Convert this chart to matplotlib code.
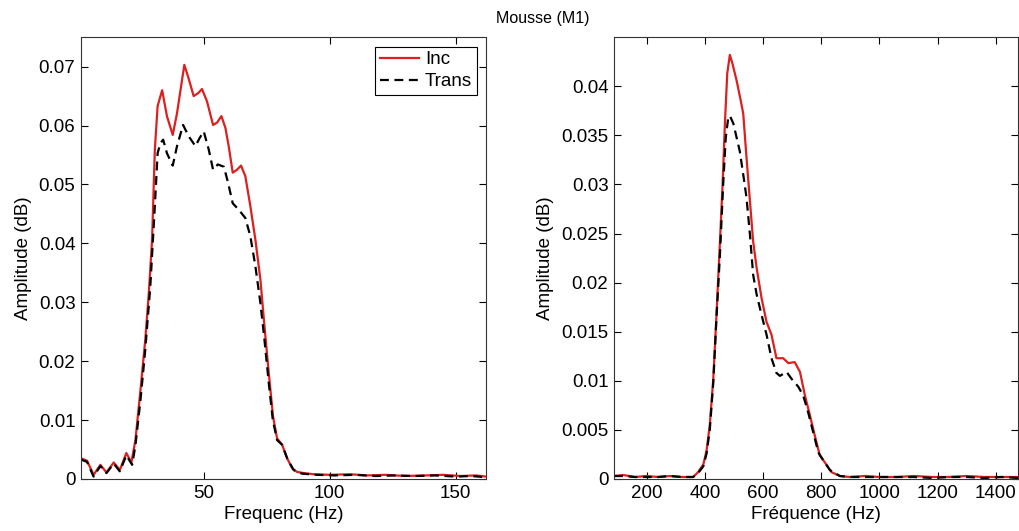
import numpy as np
import matplotlib
matplotlib.use("Agg")
import matplotlib.pyplot as plt

plt.rcParams["font.family"] = ["Liberation Sans", "DejaVu Sans"]

# left panel (Hz)
f1_inc = [1.3, 3.7, 6.3, 9.0, 11.4, 14.3, 16.7, 19.3, 21.3, 22.9, 24.9, 26.8, 28.2, 29.5,
          30.6, 31.7, 33.5, 35.4, 37.7, 39.4, 42.3, 44.0, 46.0, 47.8, 49.3, 51.3, 53.7,
          55.3, 57.0, 58.6, 59.9, 61.5, 63.2, 64.8, 66.5, 68.5, 70.5, 72.5, 74.1, 75.8,
          77.5, 79.1, 81.1, 83.1, 85.1, 87.0, 89.7, 93.7, 100, 108, 115, 122, 130, 138,
          145, 152, 158, 162]
a1_inc = [0.0035, 0.0031, 0.0007, 0.0024, 0.0011, 0.0028, 0.0015, 0.0044, 0.0028, 0.0066,
          0.0151, 0.0236, 0.0315, 0.0406, 0.0559, 0.0633, 0.0660, 0.0616, 0.0584, 0.0621,
          0.0703, 0.0680, 0.0650, 0.0655, 0.0662, 0.0641, 0.0601, 0.0605, 0.0616, 0.0596,
          0.0565, 0.0520, 0.0525, 0.0532, 0.0514, 0.0463, 0.0406, 0.0338, 0.0259, 0.0180,
          0.0106, 0.0069, 0.0058, 0.0035, 0.0018, 0.0012, 0.0010, 0.0008, 0.0007, 0.0008,
          0.0006, 0.0007, 0.0005, 0.0006, 0.0007, 0.0005, 0.0006, 0.0004]

f1_tr = [1.3, 3.7, 6.3, 9.0, 11.4, 14.3, 16.7, 19.3, 21.6, 22.9, 24.9, 26.8, 28.8, 30.6,
         31.7, 32.8, 33.9, 35.4, 37.7, 39.4, 41.8, 44.0, 46.7, 48.4, 50.0, 52.0, 53.7,
         55.6, 58.0, 59.7, 61.5, 63.9, 66.5, 68.5, 70.5, 72.5, 74.1, 75.8, 77.4, 79.1,
         81.1, 83.1, 85.7, 89.0, 95, 102, 110, 118, 126, 134, 142, 150, 156, 162]
a1_tr = [0.0033, 0.0029, 0.0004, 0.0022, 0.0010, 0.0026, 0.0013, 0.0040, 0.0024, 0.0057,
         0.0134, 0.0219, 0.0327, 0.0463, 0.0553, 0.0570, 0.0576, 0.0553, 0.0532, 0.0565,
         0.0601, 0.0582, 0.0565, 0.0579, 0.0590, 0.0559, 0.0525, 0.0534, 0.0530, 0.0502,
         0.0468, 0.0457, 0.0443, 0.0412, 0.0361, 0.0298, 0.0236, 0.0163, 0.0100, 0.0066,
         0.0058, 0.0035, 0.0015, 0.0009, 0.0007, 0.0006, 0.0007, 0.0005, 0.0006, 0.0005,
         0.0006, 0.0004, 0.0005, 0.0003]

# right panel (Hz)
f2_inc = [88, 120, 160, 200, 240, 280, 320, 360, 377, 395, 406, 417, 429, 440, 452, 461,
          469, 477, 486, 495, 509, 523, 532, 543, 555, 566, 578, 595, 612, 629, 646, 669,
          687, 709, 727, 744, 761, 778, 795, 812, 835, 864, 898, 950, 1000, 1060, 1120,
          1180, 1240, 1300, 1360, 1420, 1476]
a2_inc = [0.0003, 0.0004, 0.0002, 0.0003, 0.0002, 0.0003, 0.0002, 0.0002, 0.0007, 0.0015,
          0.0029, 0.0055, 0.0102, 0.0167, 0.0242, 0.0300, 0.0362, 0.0413, 0.0432, 0.0423,
          0.0406, 0.0386, 0.0372, 0.0328, 0.0283, 0.0242, 0.0215, 0.0184, 0.0160, 0.0147,
          0.0123, 0.0123, 0.0118, 0.0119, 0.0109, 0.0085, 0.0065, 0.0044, 0.0024, 0.0017,
          0.0007, 0.0003, 0.0002, 0.0003, 0.0002, 0.0002, 0.0003, 0.0002, 0.0002, 0.0003,
          0.0002, 0.0002, 0.0002]

f2_tr = [88, 120, 160, 200, 240, 280, 320, 360, 377, 395, 406, 417, 429, 440, 452, 463,
         472, 480, 486, 498, 509, 520, 532, 543, 555, 566, 578, 595, 612, 629, 646, 658,
         681, 698, 721, 738, 755, 772, 790, 807, 830, 864, 898, 950, 1000, 1060, 1120,
         1180, 1240, 1300, 1360, 1420, 1476]
a2_tr = [0.0003, 0.0003, 0.0002, 0.0002, 0.0002, 0.0003, 0.0002, 0.0002, 0.0006, 0.0013,
         0.0026, 0.0050, 0.0098, 0.0164, 0.0229, 0.0300, 0.0348, 0.0367, 0.0370, 0.0362,
         0.0348, 0.0334, 0.0310, 0.0287, 0.0249, 0.0208, 0.0188, 0.0167, 0.0147, 0.0123,
         0.0108, 0.0105, 0.0109, 0.0102, 0.0094, 0.0085, 0.0068, 0.0048, 0.0027, 0.0019,
         0.0009, 0.0003, 0.0002, 0.0002, 0.0002, 0.0002, 0.0002, 0.0001, 0.0002, 0.0002,
         0.0001, 0.0002, 0.0001]

yticks1 = [0, 0.01, 0.02, 0.03, 0.04, 0.05, 0.06, 0.07]
ylabels1 = ["0", "0.01", "0.02", "0.03", "0.04", "0.05", "0.06", "0.07"]
xticks1 = [50, 100, 150]
yticks2 = [0, 0.005, 0.01, 0.015, 0.02, 0.025, 0.03, 0.035, 0.04]
ylabels2 = ["0", "0.005", "0.01", "0.015", "0.02", "0.025", "0.03", "0.035", "0.04"]
xticks2 = [200, 400, 600, 800, 1000, 1200, 1400]

RED = "#dd1f1f"
FS = 13.5

fig = plt.figure(figsize=(10.2, 5.31), dpi=100)
ax1 = fig.add_axes([0.0794, 0.098, 0.3971, 0.832])
ax2 = fig.add_axes([0.602, 0.098, 0.396, 0.832])

ax1.plot(f1_inc, a1_inc, color=RED, lw=1.6, label="Inc")
ax1.plot(f1_tr, a1_tr, color="black", lw=1.6, ls=(0, (4, 2.5)), label="Trans")
ax1.set_xlim(1.3, 162)
ax1.set_ylim(0, 0.075)
ax1.set_xticks(xticks1)
ax1.set_yticks(yticks1)
ax1.set_yticklabels(ylabels1)
ax1.set_xlabel("Frequenc (Hz)", fontsize=FS, labelpad=3)
ax1.set_ylabel("Amplitude (dB)", fontsize=FS, labelpad=5)
leg = ax1.legend(loc="upper right", fontsize=FS, fancybox=False, framealpha=1,
                 edgecolor="black", borderaxespad=0.5, handlelength=2.1,
                 handletextpad=0.3, labelspacing=0.25, borderpad=0.25)
leg.get_frame().set_linewidth(0.8)

ax2.plot(f2_inc, a2_inc, color=RED, lw=1.6)
ax2.plot(f2_tr, a2_tr, color="black", lw=1.6, ls=(0, (4, 2.5)))
ax2.set_xlim(88, 1476)
ax2.set_ylim(0, 0.045)
ax2.set_xticks(xticks2)
ax2.set_yticks(yticks2)
ax2.set_yticklabels(ylabels2)
ax2.set_xlabel("Fréquence (Hz)", fontsize=FS, labelpad=3)
ax2.set_ylabel("Amplitude (dB)", fontsize=FS, labelpad=5)

for ax in (ax1, ax2):
    ax.tick_params(direction="in", top=True, right=True, length=5, width=0.8,
                   labelsize=FS, pad=4)
    for s in ax.spines.values():
        s.set_linewidth(0.8)
        s.set_color("#333333")

fig.text(0.532, 0.965, "Mousse (M1)", ha="center", va="center", fontsize=11.5)

fig.savefig("out.png", dpi=100)
